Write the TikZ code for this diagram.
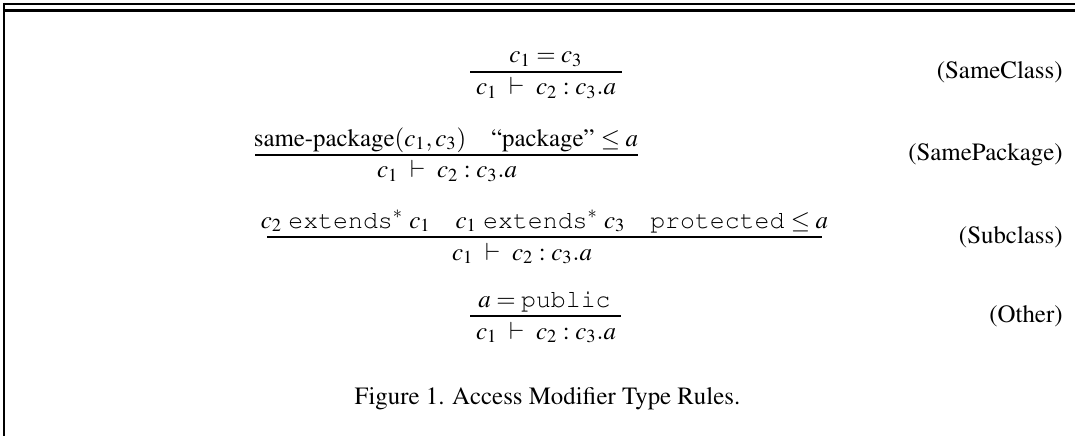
\documentclass[tikz,border=0pt]{standalone}
\usepackage[T1]{fontenc}
\usepackage{mathptmx}
\usepackage{courier}
\tikzset{
  premise/.style={anchor=base, inner sep=0pt, font=\fontsize{11.3}{13.5}\selectfont},
  judgement/.style={line width=1.1pt},
  rulename/.style={anchor=east, inner sep=0pt, font=\fontsize{11.3}{13.5}\selectfont},
  framethin/.style={line width=0.9pt},
  framethick/.style={line width=1.4pt},
}
\newcommand{\jdg}{$c_1 \ \vdash\ c_2 : c_3.a$}
\begin{document}
\begin{tikzpicture}[x=0.4545pt, y=-0.4545pt]
\useasboundingbox (0,0) rectangle (1075,436);
% frame: double rule on top, single rule on the left
\coordinate (ftl) at (3,4);
\coordinate (ftr) at (1075,4);
\coordinate (fkl) at (5,10.5);
\coordinate (fkr) at (1075,10.5);
\coordinate (fvt) at (4,3);
\coordinate (fvb) at (4,436);
\draw[framethin] (ftl) -- (ftr);
\draw[framethick] (fkl) -- (fkr);
\draw[framethin] (fvt) -- (fvb);

% (SameClass)
\node[premise] (p1) at (546,63) {$c_1 = c_3$};
\node[premise] (c1) at (546,95) {\jdg};
\coordinate (r1a) at (470,72);
\coordinate (r1b) at (622,72);
\draw[judgement] (r1a) -- (r1b);
\node[rulename] (n1) at (1063,72) {(SameClass)};

% (SamePackage)
\node[premise] (p2) at (446,146) {same-package$(c_1,c_3)$\quad ``package'' $\leq a$};
\node[premise] (c2) at (447,178) {\jdg};
\coordinate (r2a) at (255,155);
\coordinate (r2b) at (638,155);
\draw[judgement] (r2a) -- (r2b);
\node[rulename] (n2) at (1063,155) {(SamePackage)};

% (Subclass)
\node[premise] (p3) at (544.5,228) {$c_2$ \texttt{extends}$^*$ $c_1$\quad $c_1$ \texttt{extends}$^*$ $c_3$\quad \texttt{protected} $\leq a$};
\node[premise] (c3) at (522,260) {\jdg};
\coordinate (r3a) at (267,237);
\coordinate (r3b) at (822,237);
\draw[judgement] (r3a) -- (r3b);
\node[rulename] (n3) at (1063,237) {(Subclass)};

% (Other)
\node[premise] (p4) at (544.5,307) {$a = \texttt{public}$};
\node[premise] (c4) at (546,339) {\jdg};
\coordinate (r4a) at (470,316);
\coordinate (r4b) at (621,316);
\draw[judgement] (r4a) -- (r4b);
\node[rulename] (n4) at (1063,316) {(Other)};

% caption
\node[premise] (cap) at (547.5,404) {Figure 1. Access Modifier Type Rules.};
\end{tikzpicture}
\end{document}
